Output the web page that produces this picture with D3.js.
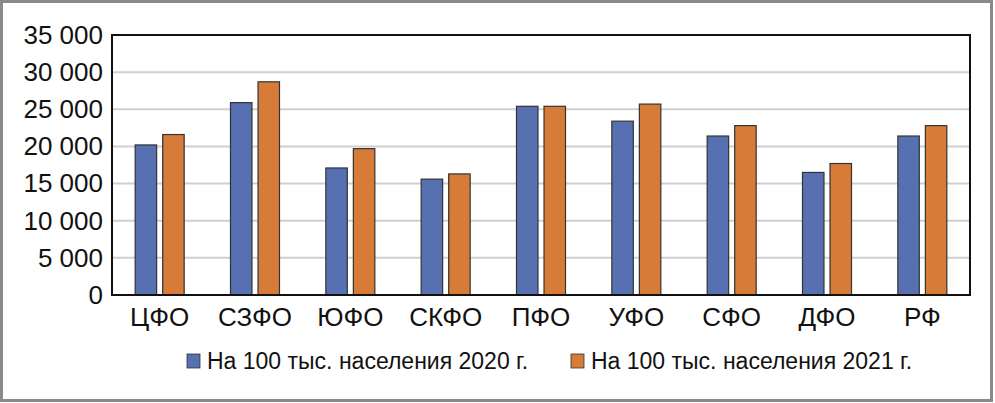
<!DOCTYPE html>
<html><head><meta charset="utf-8">
<script src="https://cdn.jsdelivr.net/npm/d3@7"></script>
<style>body{margin:0;background:#fff}svg{display:block}text{font-family:"Liberation Sans",Arial,sans-serif;fill:#111}</style>
</head><body><svg id="c" width="995" height="403"></svg>
<script>
const categories = ["ЦФО","СЗФО","ЮФО","СКФО","ПФО","УФО","СФО","ДФО","РФ"];
const series2020 = [20200,25900,17100,15600,25400,23400,21400,16500,21400];
const series2021 = [21600,28700,19700,16300,25400,25700,22800,17700,22800];
const seriesNames = ["На 100 тыс. населения 2020 г.","На 100 тыс. населения 2021 г."];
const yTicks = [0,5000,10000,15000,20000,25000,30000,35000];
const colors = ["#5670B1","#D77B38"];

const svg = d3.select("#c");
svg.append("rect").attr("x",1.5).attr("y",1.5).attr("width",990).attr("height",399)
  .attr("fill","#fff").attr("stroke","#8a8a8a").attr("stroke-width",3);

const m = {l:112,r:970,t:35,b:295};
const x = d3.scaleBand().domain(categories).range([m.l,m.r]).paddingInner(0.486).paddingOuter(0.243);
const x1 = d3.scaleBand().domain([0,1]).range([0,x.bandwidth()]).paddingInner(0.22);
const y = d3.scaleLinear().domain([0,35000]).range([m.b,m.t]);
const fmt = v => v===0?"0":d3.format(",")(v).replace(/,/g," ");

// gridlines
svg.append("g").selectAll("line").data(yTicks.filter(t=>t>0&&t<35000)).join("line")
  .attr("x1",m.l).attr("x2",m.r).attr("y1",d=>y(d)).attr("y2",d=>y(d))
  .attr("stroke","#cfcfcf").attr("stroke-width",2);

// y axis labels
const ya = svg.append("g").attr("transform",`translate(${m.l},0)`)
  .call(d3.axisLeft(y).tickValues(yTicks).tickFormat(fmt).tickSize(0).tickPadding(9));
ya.select(".domain").remove();
ya.selectAll("text").attr("font-size",26).attr("font-family","Liberation Sans, Arial, sans-serif").attr("fill","#111");

// bars
const data = categories.map((c,i)=>({c,v:[series2020[i],series2021[i]]}));
const g = svg.append("g").selectAll("g").data(data).join("g").attr("transform",d=>`translate(${x(d.c)},0)`);
g.selectAll("rect").data(d=>d.v.map((v,k)=>({v,k}))).join("rect")
  .attr("x",d=>x1(d.k)).attr("width",x1.bandwidth())
  .attr("y",d=>y(d.v)).attr("height",d=>y(0)-y(d.v))
  .attr("fill",d=>colors[d.k]).attr("stroke","#333").attr("stroke-width",1.2);

// plot frame
svg.append("rect").attr("x",m.l).attr("y",m.t).attr("width",m.r-m.l).attr("height",m.b-m.t)
  .attr("fill","none").attr("stroke","#111").attr("stroke-width",2);

// x axis labels
const xa = svg.append("g").attr("transform",`translate(0,${m.b})`)
  .call(d3.axisBottom(x).tickSize(0).tickPadding(12));
xa.select(".domain").remove();
xa.selectAll("text").attr("font-size",26).attr("font-family","Liberation Sans, Arial, sans-serif").attr("fill","#111").attr("dy","0.72em");

// legend
const lg = svg.append("g");
const lx = [187,571];
seriesNames.forEach((n,k)=>{
  lg.append("rect").attr("x",lx[k]).attr("y",354).attr("width",13).attr("height",14)
    .attr("fill",colors[k]).attr("stroke","#333").attr("stroke-width",0.8);
  lg.append("text").attr("x",lx[k]+20).attr("y",369).attr("font-size",23).text(n);
});
</script></body></html>
